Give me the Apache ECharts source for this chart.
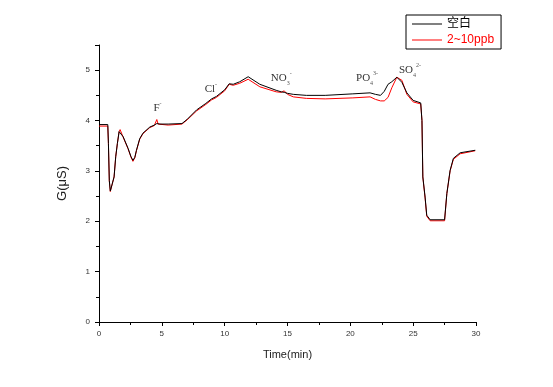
<!DOCTYPE html>
<html>
<head>
<meta charset="utf-8">
<script src="https://cdn.jsdelivr.net/npm/echarts@6/dist/echarts.min.js"></script>
<style>html,body{margin:0;padding:0;background:#fff}#c{width:553px;height:387px}</style>
</head>
<body>
<div id="c"></div>
<script>
var seriesNames = ['空白', '2~10ppb'];
var time = [0, 0.7, 0.75, 0.82, 0.9, 1.05, 1.2, 1.33, 1.46, 1.6, 1.68, 1.92, 2.31, 2.55, 2.7, 2.85, 2.98, 3.24, 3.5, 4.04, 4.4, 4.6, 4.7, 4.85, 5.5, 6.6, 7.0, 7.76, 8.5, 8.96, 9.35, 10.0, 10.36, 10.68, 11.2, 11.87, 12.8, 14.1, 14.5, 14.74, 15.0, 15.46, 16.5, 18, 20.2, 21.57, 22.0, 22.4, 22.7, 23.0, 23.3, 23.7, 23.85, 24.1, 24.5, 25.0, 25.6, 25.7, 25.77, 25.95, 26.08, 26.35, 27.5, 27.68, 27.94, 28.2, 28.74, 29.94];
var blank = [3.92, 3.92, 3.54, 2.81, 2.60, 2.60, 2.88, 3.28, 3.54, 3.78, 3.81, 3.68, 3.45, 3.28, 3.21, 3.27, 3.41, 3.64, 3.75, 3.87, 3.91, 3.94, 3.95, 3.93, 3.93, 3.94, 4.02, 4.21, 4.34, 4.43, 4.48, 4.61, 4.73, 4.72, 4.77, 4.87, 4.72, 4.60, 4.57, 4.56, 4.54, 4.52, 4.50, 4.50, 4.53, 4.55, 4.52, 4.50, 4.58, 4.72, 4.77, 4.86, 4.84, 4.76, 4.55, 4.40, 4.35, 4.00, 2.88, 2.48, 2.12, 2.03, 2.03, 2.55, 3.01, 3.25, 3.36, 3.41];
var spiked = [3.89, 3.89, 3.54, 2.80, 2.59, 2.59, 2.88, 3.28, 3.54, 3.78, 3.82, 3.67, 3.44, 3.27, 3.19, 3.26, 3.40, 3.63, 3.74, 3.86, 3.90, 4.02, 3.93, 3.91, 3.91, 3.93, 4.01, 4.19, 4.32, 4.41, 4.46, 4.59, 4.72, 4.70, 4.74, 4.82, 4.67, 4.57, 4.56, 4.59, 4.52, 4.47, 4.44, 4.43, 4.45, 4.47, 4.42, 4.39, 4.39, 4.46, 4.65, 4.86, 4.89, 4.80, 4.52, 4.37, 4.33, 4.00, 2.88, 2.46, 2.10, 2.01, 2.01, 2.55, 3.00, 3.23, 3.34, 3.40];
var annotTime = [4.65, 8.9, 14.5, 21.33, 24.75];
var annotValue = [4.25, 4.62, 4.84, 4.84, 5.0];
var annotText = ['{b|F}{sup|-}', '{b|Cl}{sup|-}', '{b|NO}{sub|3}{sup|-}', '{b|PO}{sub|4}{sup|3-}', '{b|SO}{sub|4}{sup|2-}'];

function pairs(t, v) { return t.map(function (x, i) { return [x, v[i]]; }); }

var chart = echarts.init(document.getElementById('c'), null, {renderer: 'canvas'});
var axisCommon = {
  axisLine: {show: true, lineStyle: {color: '#000', width: 1}},
  axisTick: {show: true, inside: false, length: 4, lineStyle: {color: '#000'}},
  minorTick: {show: true, splitNumber: 2, length: 3, lineStyle: {color: '#000'}},
  splitLine: {show: false},
  axisLabel: {color: '#333', fontSize: 8, fontFamily: 'Liberation Sans, Arial, sans-serif'}
};
var annData = annotTime.map(function (t, i) {
  return {coord: [t, annotValue[i]], label: {formatter: annotText[i]}};
});
chart.setOption({
  animation: false,
  backgroundColor: '#fff',
  grid: {left: 99, right: 77, top: 45, bottom: 65},
  legend: {
    orient: 'vertical', left: 406, top: 15,
    padding: [3, 7, 3, 6], itemGap: 4,
    borderColor: '#000', borderWidth: 1, backgroundColor: '#fff',
    itemWidth: 30, itemHeight: 1, icon: 'rect',
    textStyle: {fontSize: 12, fontFamily: 'Liberation Sans, Noto Sans CJK SC, sans-serif'},
    data: [
      {name: seriesNames[0], textStyle: {color: '#000'}},
      {name: seriesNames[1], textStyle: {color: '#ff0000'}}
    ]
  },
  xAxis: Object.assign({}, axisCommon, {
    type: 'value', min: 0, max: 30, interval: 5,
    name: 'Time(min)', nameLocation: 'middle', nameGap: 27,
    nameTextStyle: {color: '#222', fontSize: 11, fontFamily: 'Liberation Sans, Arial, sans-serif'},
    axisLabel: Object.assign({}, axisCommon.axisLabel, {margin: 8})
  }),
  yAxis: Object.assign({}, axisCommon, {
    type: 'value', min: 0, max: 5.5, interval: 1,
    name: 'G(μS)', nameLocation: 'middle', nameGap: 30,
    nameTextStyle: {color: '#222', fontSize: 13, fontFamily: 'Liberation Sans, Arial, sans-serif'},
    axisLabel: Object.assign({}, axisCommon.axisLabel, {margin: 9, showMaxLabel: false,
      formatter: function (v) { return Number.isInteger(v) ? String(v) : ''; }})
  }),
  series: [
    {
      name: seriesNames[0], type: 'line', data: pairs(time, blank),
      showSymbol: false, symbol: 'none', z: 3,
      lineStyle: {color: '#000', width: 1}, itemStyle: {color: '#000'},
      markPoint: {
        symbol: 'circle', symbolSize: 0, silent: true,
        label: {
          show: true, position: 'inside', color: '#333',
          rich: {
            b: {fontFamily: 'Liberation Serif, Times New Roman, serif', fontSize: 11, color: '#333', lineHeight: 16, verticalAlign: 'middle'},
            sup: {fontFamily: 'Liberation Serif, serif', fontSize: 6, color: '#555', lineHeight: 16, verticalAlign: 'top'},
            sub: {fontFamily: 'Liberation Serif, serif', fontSize: 6, color: '#555', lineHeight: 16, verticalAlign: 'bottom'}
          }
        },
        data: annData
      }
    },
    {
      name: seriesNames[1], type: 'line', data: pairs(time, spiked),
      showSymbol: false, symbol: 'none', z: 2,
      lineStyle: {color: '#ff0000', width: 1}, itemStyle: {color: '#ff0000'}
    }
  ]
});
</script>
</body>
</html>
